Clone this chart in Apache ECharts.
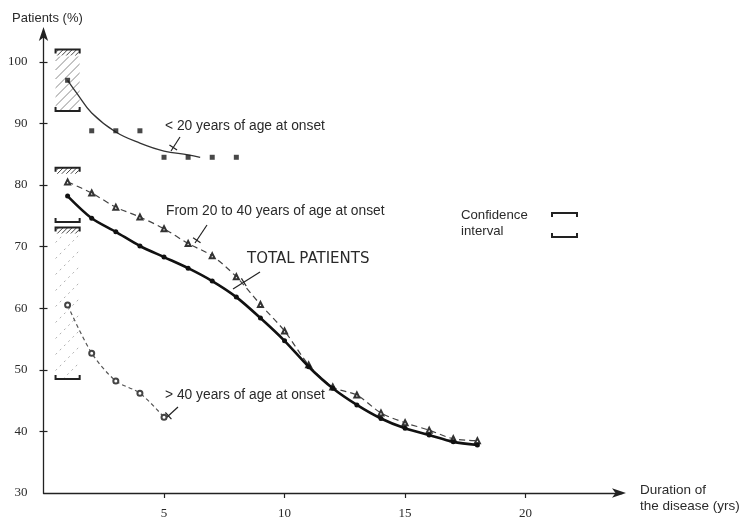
<!DOCTYPE html>
<html>
<head>
<meta charset="utf-8">
<script src="https://cdn.jsdelivr.net/npm/echarts@6/dist/echarts.min.js"></script>
<style>
  html, body { margin: 0; padding: 0; background: #fff; }
  #chart { width: 740px; height: 521px; }
</style>
</head>
<body>
<div id="chart"></div>
<script>
// Duration of the disease (years) and share of patients (%)
const years = [1, 2, 3, 4, 5, 6, 7, 8, 9, 10, 11, 12, 13, 14, 15, 16, 17, 18];
const totalPatients = [78.2, 74.6, 72.4, 70.1, 68.3, 66.5, 64.4, 61.8, 58.4, 54.7, 50.5, 47.0, 44.3, 42.1, 40.5, 39.4, 38.3, 37.8];
const onset20to40 = [80.5, 78.7, 76.4, 74.8, 72.9, 70.5, 68.5, 65.1, 60.6, 56.3, 50.8, 47.2, 45.9, 43.0, 41.4, 40.2, 38.8, 38.5];

const yearsOver40 = [1, 2, 3, 4, 5];
const onsetOver40 = [60.5, 52.7, 48.2, 46.2, 42.3];

const yearsUnder20 = [1, 2, 3, 4, 5, 6, 7, 8];
const onsetUnder20 = [97.0, 88.8, 88.8, 88.8, 84.5, 84.5, 84.5, 84.5];

// fitted curve through the "< 20 years" observations
const fitUnder20X = [1, 1.4, 2, 3, 4, 5, 6, 6.5];
const fitUnder20Y = [97.0, 94.8, 91.7, 88.6, 86.8, 85.5, 84.9, 84.5];

// confidence intervals at 1 year: < 20, 20-40, > 40
const ciYear = [1, 1, 1];
const ciLow = [92.0, 74.0, 48.5];
const ciHigh = [102.0, 82.8, 73.1];

const xTicks = [5, 10, 15, 20];
const yTicks = [30, 40, 50, 60, 70, 80, 90, 100];

// hatch look of each interval body
const ciBodyStyle = [
  { gap: 9, stroke: '#8a8a8a', dash: null, width: 1 },
  { gap: 0 },
  { gap: 16, stroke: '#b0b0b0', dash: [2, 4], width: 1 }
];

const INK = '#222';
const TXT = '#2a2a2a';
const SANS = '"Liberation Sans", Arial, sans-serif';
const WIDE = '"DejaVu Sans", "Liberation Sans", sans-serif';
const SERIF = '"Liberation Serif", "Times New Roman", serif';

const zip = (xs, ys) => xs.map((x, i) => [x, ys[i]]);

// "/" hatch lines clipped to a rectangle
function hatch(x0, y0, x1, y1, gap, style) {
  const out = [];
  for (let c = x0 + y0 + gap / 2; c < x1 + y1; c += gap) {
    const xa = Math.max(x0, c - y1), xb = Math.min(x1, c - y0);
    if (xb - xa < 0.5) continue;
    out.push({ type: 'line', shape: { x1: xa, y1: c - xa, x2: xb, y2: c - xb }, style: style, silent: true });
  }
  return out;
}

function renderInterval(params, api) {
  const x = api.value(0), lo = api.value(1), hi = api.value(2);
  const top = api.coord([x, hi]);
  const bot = api.coord([x, lo]);
  const w = api.size([1, 0])[0];
  const x0 = top[0] - w / 2, x1 = top[0] + w / 2;
  const y0 = top[1], y1 = bot[1];
  const body = ciBodyStyle[params.dataIndex] || { gap: 0 };
  const children = [];
  if (body.gap > 0) {
    children.push(...hatch(x0, y0 + 7, x1, y1, body.gap,
      { stroke: body.stroke, lineWidth: body.width, lineDash: body.dash, fill: null }));
  }
  // wall marks under the upper bound
  children.push(...hatch(x0 + 1, y0, x1 - 1, y0 + 6, 4.5, { stroke: '#444', lineWidth: 1, fill: null }));
  children.push({ type: 'polyline', shape: { points: [[x0, y0 + 4], [x0, y0], [x1, y0], [x1, y0 + 4]] },
    style: { stroke: INK, lineWidth: 2, fill: null } });
  children.push({ type: 'polyline', shape: { points: [[x0, y1 - 4], [x0, y1], [x1, y1], [x1, y1 - 4]] },
    style: { stroke: INK, lineWidth: 2, fill: null } });
  return { type: 'group', children: children };
}

// leader line from a label to its curve, with a small cross stroke
function leader(a, b, at) {
  const dx = b[0] - a[0], dy = b[1] - a[1];
  const len = Math.hypot(dx, dy);
  const px = -dy / len, py = dx / len;
  const cx = a[0] + dx * at, cy = a[1] + dy * at;
  return [
    { type: 'line', shape: { x1: a[0], y1: a[1], x2: b[0], y2: b[1] }, style: { stroke: INK, lineWidth: 1.2 } },
    { type: 'line', shape: { x1: cx - px * 4.5, y1: cy - py * 4.5, x2: cx + px * 4.5, y2: cy + py * 4.5 },
      style: { stroke: INK, lineWidth: 1.2 } }
  ];
}

function label(text, x, y, size, family) {
  return { type: 'text', x: x, y: y, silent: true,
    style: { text: text, font: size + 'px ' + (family || SANS), fill: TXT, verticalAlign: 'middle', align: 'left' } };
}

const chart = echarts.init(document.getElementById('chart'), null, { renderer: 'canvas' });

chart.setOption({
  animation: false,
  backgroundColor: '#fff',
  grid: { left: 43.5, right: 118, top: 31, bottom: 28, containLabel: false },
  xAxis: {
    type: 'value', min: 0, max: 24, interval: 5,
    axisLine: { show: true, symbol: ['none', 'arrow'], symbolSize: [7, 14], symbolOffset: [0, 4],
      lineStyle: { color: INK, width: 1.3 } },
    axisTick: { show: true, customValues: xTicks, length: 5, lineStyle: { color: INK, width: 1.2 } },
    axisLabel: { customValues: xTicks, margin: 14, color: TXT, fontFamily: SERIF, fontSize: 13 },
    splitLine: { show: false }
  },
  yAxis: [{
    type: 'value', min: 30, max: 105, interval: 10,
    axisLine: { show: true, symbol: ['none', 'arrow'], symbolSize: [7, 14], symbolOffset: [0, 4],
      lineStyle: { color: INK, width: 1.3 } },
    axisTick: { show: true, customValues: yTicks.slice(1), length: 4, lineStyle: { color: INK, width: 1.2 } },
    axisLabel: { customValues: yTicks, margin: 16, color: TXT, fontFamily: SERIF, fontSize: 13 },
    splitLine: { show: false }
  }, {
    type: 'value', min: 30, max: 105, interval: 10, position: 'left',
    axisLine: { show: false },
    axisTick: { show: true, inside: true, customValues: yTicks.slice(1), length: 4, lineStyle: { color: INK, width: 1.2 } },
    axisLabel: { show: false },
    splitLine: { show: false }
  }],
  series: [
    {
      name: 'Confidence interval', type: 'custom', coordinateSystem: 'cartesian2d', z: 1,
      renderItem: renderInterval,
      encode: { x: 0, y: [1, 2] },
      data: ciYear.map((x, i) => [x, ciLow[i], ciHigh[i]])
    },
    {
      name: '< 20 years (fit)', type: 'line', smooth: 0.4, showSymbol: false, z: 3,
      lineStyle: { color: '#333', width: 1.3 },
      data: zip(fitUnder20X, fitUnder20Y)
    },
    {
      name: '< 20 years of age at onset', type: 'scatter', symbol: 'rect', symbolSize: 5, z: 4,
      itemStyle: { color: '#1a1a1a' },
      data: zip(yearsUnder20, onsetUnder20)
    },
    {
      name: 'From 20 to 40 years of age at onset', type: 'line', smooth: 0.3, z: 3,
      symbol: 'emptyTriangle', symbolSize: 5,
      lineStyle: { color: '#444', width: 1.2, type: [6, 4] },
      itemStyle: { color: '#333', borderWidth: 1.1 },
      data: zip(years, onset20to40)
    },
    {
      name: '> 40 years of age at onset', type: 'line', smooth: 0.3, z: 3,
      symbol: 'emptyCircle', symbolSize: 5,
      lineStyle: { color: '#555', width: 1.2, type: [4, 3] },
      itemStyle: { color: '#444', borderWidth: 1 },
      data: zip(yearsOver40, onsetOver40)
    },
    {
      name: 'TOTAL PATIENTS', type: 'line', smooth: 0.3, z: 5,
      symbol: 'circle', symbolSize: 5,
      lineStyle: { color: '#111', width: 2.6 },
      itemStyle: { color: '#111' },
      data: zip(years, totalPatients)
    }
  ],
  graphic: [
    label('Patients (%)', 12, 18, 13),
    label('< 20 years of age at onset', 165, 126, 13.8),
    label('From 20 to 40 years of age at onset', 166, 211, 13.8),
    label('TOTAL PATIENTS', 247, 259, 15, WIDE),
    label('> 40 years of age at onset', 165, 395, 13.8),
    label('Confidence', 461, 215, 13.2),
    label('interval', 461, 231, 13.2),
    label('Duration of', 640, 490, 13.5),
    label('the disease (yrs)', 640, 506, 13.5),
    ...leader([180, 137], [171, 151], 0.75),
    ...leader([207, 225], [195, 243], 0.85),
    ...leader([260, 272], [233, 289], 0.6),
    ...leader([178, 407], [166, 418], 0.8),
    // legend glyph for the confidence interval
    { type: 'polyline', shape: { points: [[552, 217], [552, 213], [577, 213], [577, 217]] },
      style: { stroke: INK, lineWidth: 2, fill: null } },
    { type: 'polyline', shape: { points: [[552, 233], [552, 237], [577, 237], [577, 233]] },
      style: { stroke: INK, lineWidth: 2, fill: null } }
  ]
});
</script>
</body>
</html>
